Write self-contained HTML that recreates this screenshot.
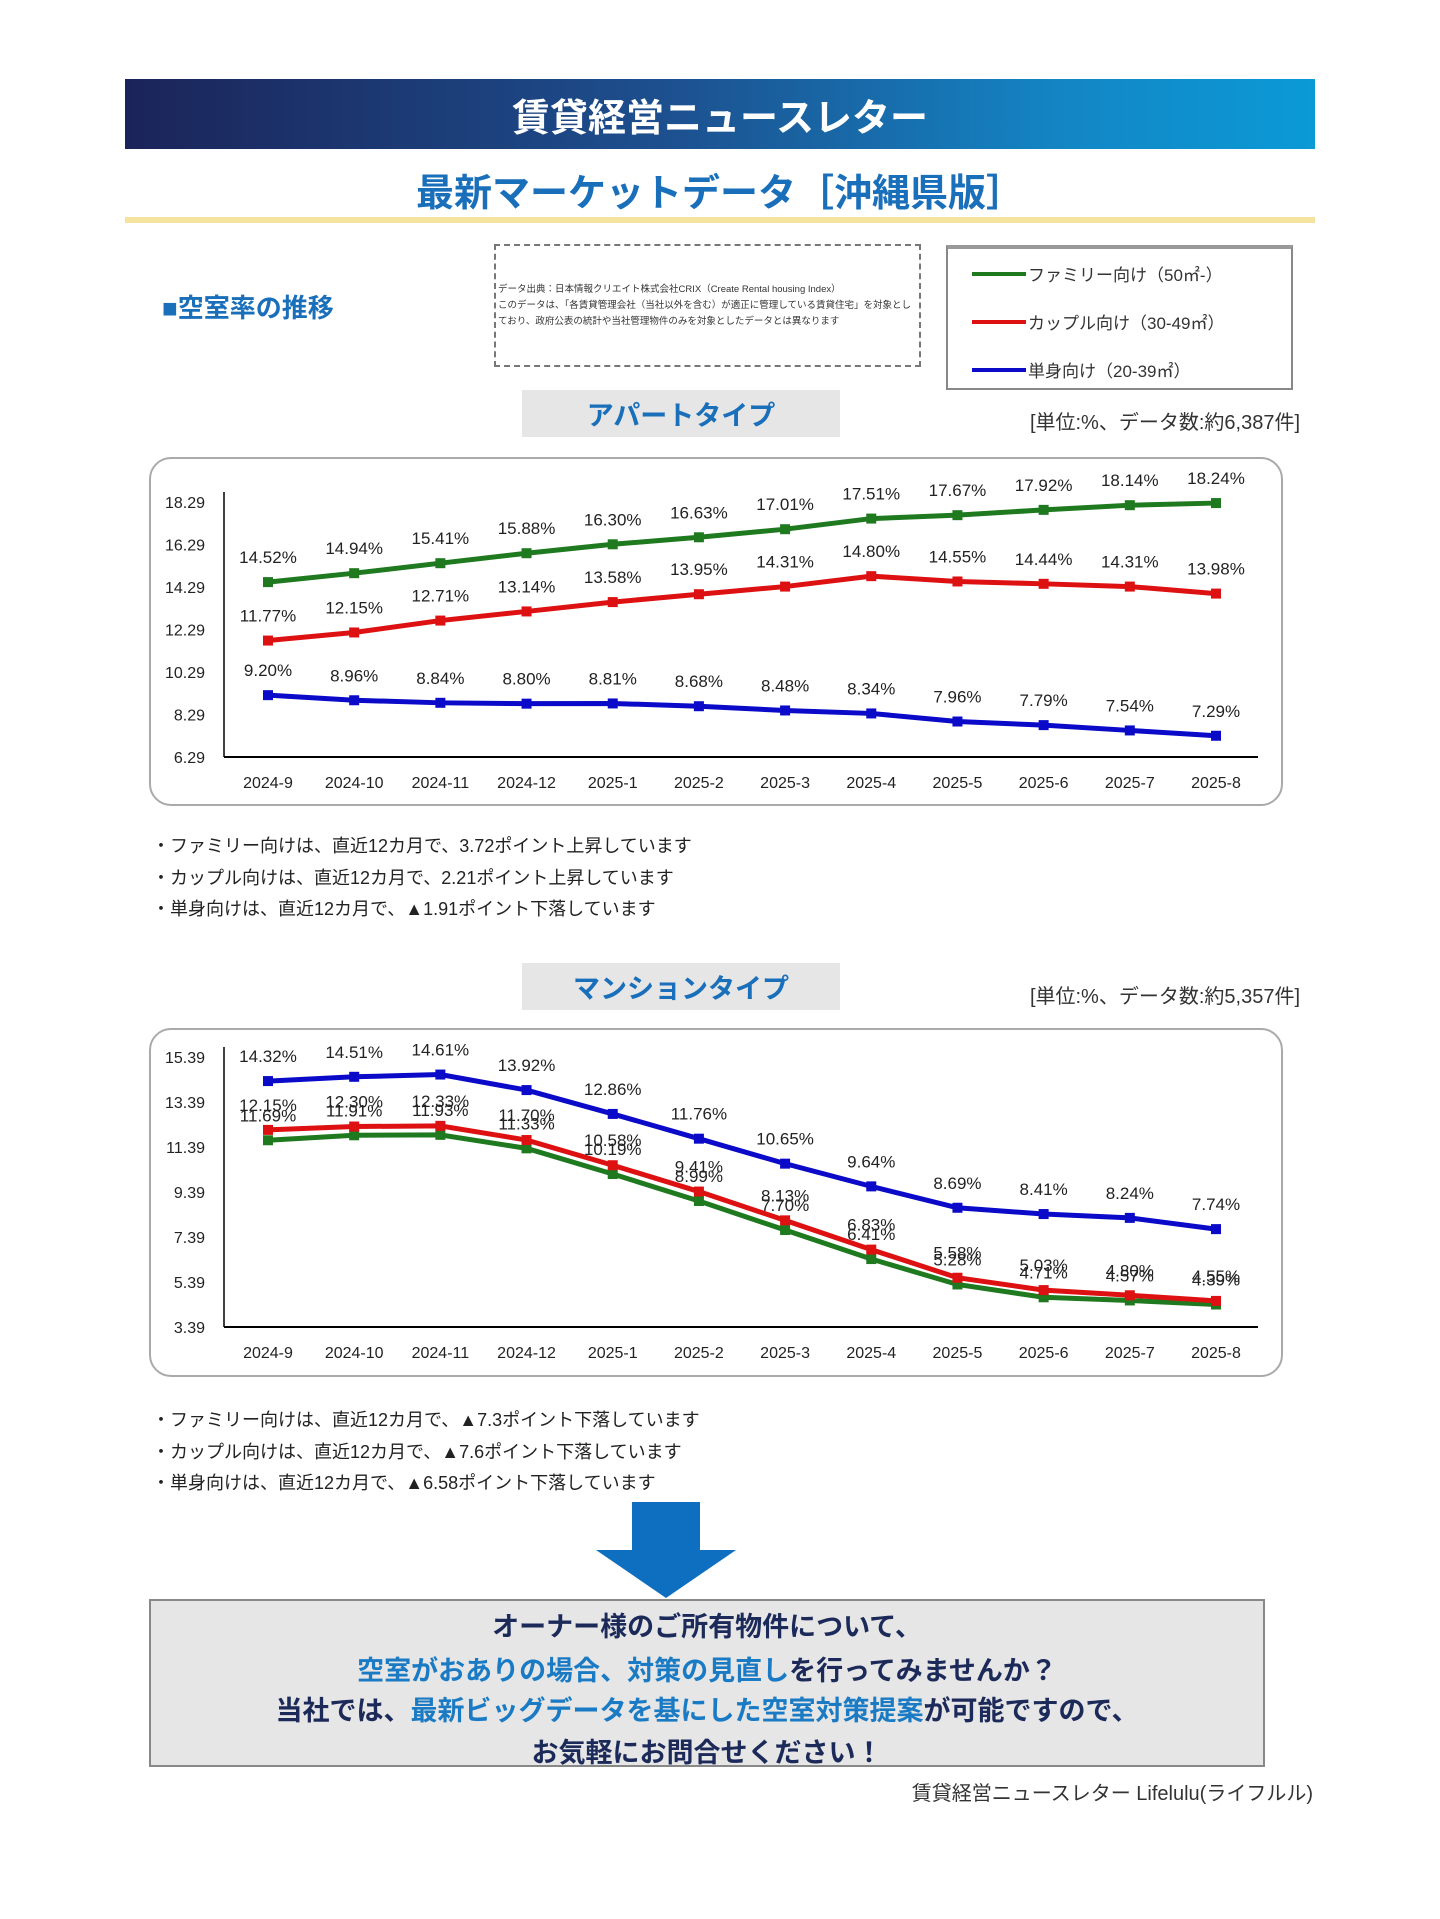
<!DOCTYPE html>
<html><head><meta charset="utf-8">
<style>
*{margin:0;padding:0;box-sizing:border-box}
body{width:1440px;height:1919px;background:#fff;position:relative;font-family:"Liberation Sans","Noto Sans CJK JP",sans-serif;overflow:hidden}
.abs{position:absolute}
.hdr{left:125px;top:79px;width:1190px;height:70px;background:linear-gradient(90deg,#1b2459 0%,#1d4f8e 45%,#1387c6 80%,#0a9ad6 100%);color:#fff;font-weight:bold;font-size:38px;display:flex;align-items:center;justify-content:center}
.sub{left:125px;top:162px;width:1190px;text-align:center;color:#1a6fba;font-weight:bold;font-size:38px}
.yl{left:125px;top:217px;width:1190px;height:6px;background:#f5e3a0}
.sec{left:162px;top:288px;color:#1a6fba;font-weight:bold;font-size:26px}
.dash{left:494px;top:244px;width:427px;height:123px;border:2px dashed #777;font-size:9.5px;color:#333;padding:36px 2px 0 2px;line-height:16px}
.leg{left:946px;top:245px;width:347px;height:145px;border:2px solid #888;border-top:4px solid #999;font-size:17px;color:#333}
.leg div{position:absolute;left:24px;display:flex;align-items:center}
.leg span.l{display:inline-block;width:54px;height:4px;margin-right:2px}
.tag{width:318px;height:47px;background:#e6e6e6;color:#1a6fba;font-weight:bold;font-size:27px;display:flex;align-items:center;justify-content:center}
.unit{font-size:20px;color:#333;right:140px}
.note{left:152px;font-size:18px;color:#222}
.cbox{left:149px;width:1134px;border:2px solid #aaa;border-radius:22px}
.cta{left:149px;top:1599px;width:1116px;height:168px;background:#e6e6e6;border:2px solid #888;text-align:center;font-weight:bold;font-size:27px;color:#1c2a5a}
.cta div{position:absolute;left:0;width:100%}
.b{color:#1a7bc4}
</style></head><body>
<div class="abs hdr">賃貸経営ニュースレター</div>
<div class="abs sub">最新マーケットデータ［沖縄県版］</div>
<div class="abs yl"></div>
<div class="abs sec">■空室率の推移</div>
<div class="abs dash">データ出典：日本情報クリエイト株式会社CRIX（Create Rental housing Index）<br>このデータは、「各賃貸管理会社（当社以外を含む）が適正に管理している賃貸住宅」を対象としており、政府公表の統計や当社管理物件のみを対象としたデータとは異なります</div>
<div class="abs leg">
<div style="top:12px"><span class="l" style="background:#1f7a1f"></span>ファミリー向け（50㎡-）</div>
<div style="top:60px"><span class="l" style="background:#d11"></span>カップル向け（30-49㎡）</div>
<div style="top:108px"><span class="l" style="background:#0a0ac8"></span>単身向け（20-39㎡）</div>
</div>
<div class="abs tag" style="left:522px;top:390px">アパートタイプ</div>
<div class="abs unit" style="top:406px">[単位:%、データ数:約6,387件]</div>
<div class="abs cbox" style="top:457px;height:349px"></div>
<svg class="abs" id="c1" style="left:0;top:0" width="1440" height="1919"></svg>
<div class="abs note" style="top:832px">・ファミリー向けは、直近12カ月で、3.72ポイント上昇しています</div>
<div class="abs note" style="top:864px">・カップル向けは、直近12カ月で、2.21ポイント上昇しています</div>
<div class="abs note" style="top:895px">・単身向けは、直近12カ月で、▲1.91ポイント下落しています</div>
<div class="abs tag" style="left:522px;top:963px">マンションタイプ</div>
<div class="abs unit" style="top:980px">[単位:%、データ数:約5,357件]</div>
<div class="abs cbox" style="top:1028px;height:349px"></div>
<div class="abs note" style="top:1406px">・ファミリー向けは、直近12カ月で、▲7.3ポイント下落しています</div>
<div class="abs note" style="top:1438px">・カップル向けは、直近12カ月で、▲7.6ポイント下落しています</div>
<div class="abs note" style="top:1469px">・単身向けは、直近12カ月で、▲6.58ポイント下落しています</div>
<svg class="abs" style="left:596px;top:1502px" width="140" height="96"><polygon points="36,0 104,0 104,48 140,48 70,96 0,48 36,48" fill="#0e6fc0"/></svg>
<div class="abs cta">
<div style="top:4px">オーナー様のご所有物件について、</div>
<div style="top:48px"><span class="b">空室がおありの場合、対策の見直し</span>を行ってみませんか？</div>
<div style="top:88px">当社では、<span class="b">最新ビッグデータを基にした空室対策提案</span>が可能ですので、</div>
<div style="top:130px">お気軽にお問合せください！</div>
</div>
<div class="abs" style="right:127px;top:1777px;font-size:20px;color:#333">賃貸経営ニュースレター Lifelulu(ライフルル)</div>
<script>
const categories=["2024-9","2024-10","2024-11","2024-12","2025-1","2025-2","2025-3","2025-4","2025-5","2025-6","2025-7","2025-8"];
const aptTicks=[18.29,16.29,14.29,12.29,10.29,8.29,6.29];
const aptFamily=[14.52,14.94,15.41,15.88,16.30,16.63,17.01,17.51,17.67,17.92,18.14,18.24];
const aptCouple=[11.77,12.15,12.71,13.14,13.58,13.95,14.31,14.80,14.55,14.44,14.31,13.98];
const aptSingle=[9.20,8.96,8.84,8.80,8.81,8.68,8.48,8.34,7.96,7.79,7.54,7.29];
const manTicks=[15.39,13.39,11.39,9.39,7.39,5.39,3.39];
const manFamily=[11.69,11.91,11.93,11.33,10.19,8.99,7.70,6.41,5.28,4.71,4.57,4.39];
const manCouple=[12.15,12.30,12.33,11.70,10.58,9.41,8.13,6.83,5.58,5.03,4.80,4.55];
const manSingle=[14.32,14.51,14.61,13.92,12.86,11.76,10.65,9.64,8.69,8.41,8.24,7.74];
const NS="http://www.w3.org/2000/svg";
const svg=document.getElementById('c1');
function mk(tag,attrs,parent){const e=document.createElementNS(NS,tag);for(const k in attrs)e.setAttribute(k,attrs[k]);(parent||svg).appendChild(e);return e;}
function chart(name,top,bottom,ticks,series){
  const min=ticks[ticks.length-1],max=ticks[0];
  const x0=268,x1=1216;
  const xs=i=>x0+(x1-x0)*i/(categories.length-1);
  const ys=v=>bottom-(v-min)/(max-min)*(bottom-top);
  const g=mk('g',{});
  
  
  const ax=mk('line',{x1:224,y1:top-10,x2:224,y2:bottom,stroke:'#000','stroke-width':1.5},g);
  
  
  const bx=mk('line',{x1:224,y1:bottom,x2:1258,y2:bottom,stroke:'#000','stroke-width':2},g);
  
  
  ticks.forEach(t=>{const e=mk('text',{x:205,y:ys(t)+6,'text-anchor':'end','font-size':16,fill:'#222'},g);e.textContent=t.toFixed(2);
    
    });
  categories.forEach((c,i)=>{const e=mk('text',{x:xs(i),y:bottom+31,'text-anchor':'middle','font-size':16,fill:'#222'},g);e.textContent=c;
    
    });
  series.forEach(s=>{
    const pts=s.data.map((v,i)=>xs(i)+','+ys(v)).join(' ');
    const l=mk('polyline',{points:pts,fill:'none',stroke:s.color,'stroke-width':5},g);
    
    
    s.data.forEach((v,i)=>{
      const r=mk('rect',{x:xs(i)-5,y:ys(v)-5,width:10,height:10,fill:s.color},g);
      
      
      const t=mk('text',{x:xs(i),y:ys(v)-19,'text-anchor':'middle','font-size':17,fill:'#222'},g);
      t.textContent=v.toFixed(2)+'%';
      
      
    });
  });
}
chart('apartment-plot',502,757,aptTicks,[
 {name:'apt-family',data:aptFamily,color:'#1f7a1f'},
 {name:'apt-couple',data:aptCouple,color:'#d11'},
 {name:'apt-single',data:aptSingle,color:'#0a0ac8'}]);
chart('mansion-plot',1057,1327,manTicks,[
 {name:'man-family',data:manFamily,color:'#1f7a1f'},
 {name:'man-couple',data:manCouple,color:'#d11'},
 {name:'man-single',data:manSingle,color:'#0a0ac8'}]);
</script>
</body></html>
